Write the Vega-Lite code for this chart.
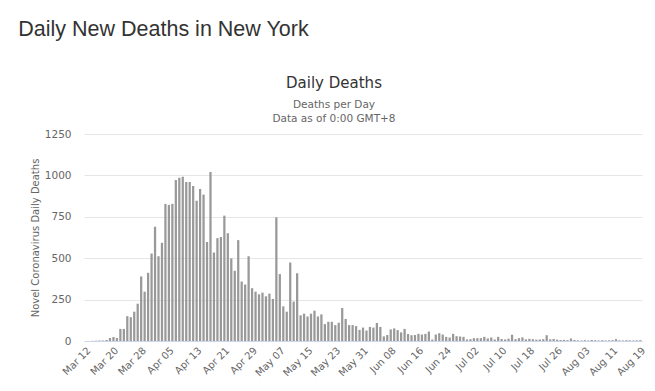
{
  "$schema": "https://vega.github.io/schema/vega-lite/v6.json",
  "background": "white",
  "padding": {"left": 18, "top": 18, "right": 5, "bottom": 5},
  "title": {"text": "Daily New Deaths in New York", "anchor": "start", "font": "Liberation Sans", "fontSize": 21.5, "fontWeight": "normal", "color": "#333333", "dx": -12, "offset": 36},
  "config": {
    "view": {"stroke": null},
    "axis": {"labelFont": "DejaVu Sans", "titleFont": "DejaVu Sans", "labelColor": "#666666", "titleColor": "#666666"}
  },
  "datasets": {
    "deaths": [
      {"date": "Mar 12", "deaths": 0}, {"date": "Mar 13", "deaths": 0}, {"date": "Mar 14", "deaths": 1}, {"date": "Mar 15", "deaths": 2}, {"date": "Mar 16", "deaths": 3}, {"date": "Mar 17", "deaths": 3}, {"date": "Mar 18", "deaths": 6}, {"date": "Mar 19", "deaths": 18}, {"date": "Mar 20", "deaths": 24}, {"date": "Mar 21", "deaths": 18},
      {"date": "Mar 22", "deaths": 73}, {"date": "Mar 23", "deaths": 73}, {"date": "Mar 24", "deaths": 150}, {"date": "Mar 25", "deaths": 144}, {"date": "Mar 26", "deaths": 177}, {"date": "Mar 27", "deaths": 225}, {"date": "Mar 28", "deaths": 390}, {"date": "Mar 29", "deaths": 298}, {"date": "Mar 30", "deaths": 412}, {"date": "Mar 31", "deaths": 528},
      {"date": "Apr 01", "deaths": 690}, {"date": "Apr 02", "deaths": 512}, {"date": "Apr 03", "deaths": 593}, {"date": "Apr 04", "deaths": 828}, {"date": "Apr 05", "deaths": 822}, {"date": "Apr 06", "deaths": 828}, {"date": "Apr 07", "deaths": 972}, {"date": "Apr 08", "deaths": 986}, {"date": "Apr 09", "deaths": 992}, {"date": "Apr 10", "deaths": 960},
      {"date": "Apr 11", "deaths": 960}, {"date": "Apr 12", "deaths": 936}, {"date": "Apr 13", "deaths": 847}, {"date": "Apr 14", "deaths": 918}, {"date": "Apr 15", "deaths": 884}, {"date": "Apr 16", "deaths": 598}, {"date": "Apr 17", "deaths": 1021}, {"date": "Apr 18", "deaths": 534}, {"date": "Apr 19", "deaths": 621}, {"date": "Apr 20", "deaths": 628},
      {"date": "Apr 21", "deaths": 757}, {"date": "Apr 22", "deaths": 651}, {"date": "Apr 23", "deaths": 499}, {"date": "Apr 24", "deaths": 424}, {"date": "Apr 25", "deaths": 609}, {"date": "Apr 26", "deaths": 359}, {"date": "Apr 27", "deaths": 341}, {"date": "Apr 28", "deaths": 512}, {"date": "Apr 29", "deaths": 319}, {"date": "Apr 30", "deaths": 298},
      {"date": "May 01", "deaths": 282}, {"date": "May 02", "deaths": 292}, {"date": "May 03", "deaths": 270}, {"date": "May 04", "deaths": 286}, {"date": "May 05", "deaths": 254}, {"date": "May 06", "deaths": 747}, {"date": "May 07", "deaths": 404}, {"date": "May 08", "deaths": 209}, {"date": "May 09", "deaths": 177}, {"date": "May 10", "deaths": 474},
      {"date": "May 11", "deaths": 238}, {"date": "May 12", "deaths": 409}, {"date": "May 13", "deaths": 155}, {"date": "May 14", "deaths": 165}, {"date": "May 15", "deaths": 148}, {"date": "May 16", "deaths": 165}, {"date": "May 17", "deaths": 183}, {"date": "May 18", "deaths": 148}, {"date": "May 19", "deaths": 161}, {"date": "May 20", "deaths": 102},
      {"date": "May 21", "deaths": 116}, {"date": "May 22", "deaths": 116}, {"date": "May 23", "deaths": 96}, {"date": "May 24", "deaths": 110}, {"date": "May 25", "deaths": 199}, {"date": "May 26", "deaths": 133}, {"date": "May 27", "deaths": 96}, {"date": "May 28", "deaths": 96}, {"date": "May 29", "deaths": 90}, {"date": "May 30", "deaths": 67},
      {"date": "May 31", "deaths": 81}, {"date": "Jun 01", "deaths": 63}, {"date": "Jun 02", "deaths": 85}, {"date": "Jun 03", "deaths": 81}, {"date": "Jun 04", "deaths": 109}, {"date": "Jun 05", "deaths": 85}, {"date": "Jun 06", "deaths": 28}, {"date": "Jun 07", "deaths": 36}, {"date": "Jun 08", "deaths": 70}, {"date": "Jun 09", "deaths": 76},
      {"date": "Jun 10", "deaths": 66}, {"date": "Jun 11", "deaths": 52}, {"date": "Jun 12", "deaths": 73}, {"date": "Jun 13", "deaths": 42}, {"date": "Jun 14", "deaths": 35}, {"date": "Jun 15", "deaths": 36}, {"date": "Jun 16", "deaths": 43}, {"date": "Jun 17", "deaths": 39}, {"date": "Jun 18", "deaths": 43}, {"date": "Jun 19", "deaths": 57},
      {"date": "Jun 20", "deaths": 9}, {"date": "Jun 21", "deaths": 39}, {"date": "Jun 22", "deaths": 47}, {"date": "Jun 23", "deaths": 39}, {"date": "Jun 24", "deaths": 25}, {"date": "Jun 25", "deaths": 21}, {"date": "Jun 26", "deaths": 43}, {"date": "Jun 27", "deaths": 29}, {"date": "Jun 28", "deaths": 27}, {"date": "Jun 29", "deaths": 25},
      {"date": "Jun 30", "deaths": 9}, {"date": "Jul 01", "deaths": 11}, {"date": "Jul 02", "deaths": 17}, {"date": "Jul 03", "deaths": 17}, {"date": "Jul 04", "deaths": 17}, {"date": "Jul 05", "deaths": 25}, {"date": "Jul 06", "deaths": 15}, {"date": "Jul 07", "deaths": 21}, {"date": "Jul 08", "deaths": 9}, {"date": "Jul 09", "deaths": 25},
      {"date": "Jul 10", "deaths": 12}, {"date": "Jul 11", "deaths": 9}, {"date": "Jul 12", "deaths": 14}, {"date": "Jul 13", "deaths": 38}, {"date": "Jul 14", "deaths": 11}, {"date": "Jul 15", "deaths": 17}, {"date": "Jul 16", "deaths": 22}, {"date": "Jul 17", "deaths": 10}, {"date": "Jul 18", "deaths": 13}, {"date": "Jul 19", "deaths": 11},
      {"date": "Jul 20", "deaths": 8}, {"date": "Jul 21", "deaths": 9}, {"date": "Jul 22", "deaths": 11}, {"date": "Jul 23", "deaths": 35}, {"date": "Jul 24", "deaths": 10}, {"date": "Jul 25", "deaths": 12}, {"date": "Jul 26", "deaths": 8}, {"date": "Jul 27", "deaths": 6}, {"date": "Jul 28", "deaths": 7}, {"date": "Jul 29", "deaths": 5},
      {"date": "Jul 30", "deaths": 15}, {"date": "Jul 31", "deaths": 6}, {"date": "Aug 01", "deaths": 4}, {"date": "Aug 02", "deaths": 3}, {"date": "Aug 03", "deaths": 5}, {"date": "Aug 04", "deaths": 3}, {"date": "Aug 05", "deaths": 6}, {"date": "Aug 06", "deaths": 4}, {"date": "Aug 07", "deaths": 3}, {"date": "Aug 08", "deaths": 5},
      {"date": "Aug 09", "deaths": 3}, {"date": "Aug 10", "deaths": 4}, {"date": "Aug 11", "deaths": 5}, {"date": "Aug 12", "deaths": 11}, {"date": "Aug 13", "deaths": 4}, {"date": "Aug 14", "deaths": 3}, {"date": "Aug 15", "deaths": 5}, {"date": "Aug 16", "deaths": 4}, {"date": "Aug 17", "deaths": 3}, {"date": "Aug 18", "deaths": 4},
      {"date": "Aug 19", "deaths": 5}
    ]
  },
  "vconcat": [
    {
      "width": 558,
      "height": 207,
      "title": {
        "text": "Daily Deaths",
        "subtitle": ["Deaths per Day", "Data as of 0:00 GMT+8"],
        "anchor": "middle",
        "dx": -29,
        "font": "DejaVu Sans",
        "fontSize": 15,
        "fontWeight": "normal",
        "color": "#333333",
        "subtitleFont": "DejaVu Sans",
        "subtitleFontSize": 10.5,
        "subtitleColor": "#666666",
        "subtitleLineHeight": 13.5,
        "subtitlePadding": 9,
        "offset": 5
      },
      "data": {"name": "deaths"},
      "mark": {"type": "bar", "color": "#999999"},
      "encoding": {
        "x": {
          "field": "date",
          "type": "ordinal",
          "sort": null,
          "scale": {"paddingInner": 0.35, "paddingOuter": 0.17},
          "axis": {
            "title": null,
            "values": ["Mar 12", "Mar 20", "Mar 28", "Apr 05", "Apr 13", "Apr 21", "Apr 29", "May 07", "May 15", "May 23", "May 31", "Jun 08", "Jun 16", "Jun 24", "Jul 02", "Jul 10", "Jul 18", "Jul 26", "Aug 03", "Aug 11", "Aug 19"],
            "labelAngle": -45,
            "labelFontSize": 10,
            "labelPadding": 4,
            "ticks": false,
            "domainColor": "#ccd6eb",
            "grid": false
          }
        },
        "y": {
          "field": "deaths",
          "type": "quantitative",
          "scale": {"domain": [0, 1250], "nice": false},
          "axis": {
            "title": "Novel Coronavirus Daily Deaths",
            "titleFontSize": 10,
            "titleFontWeight": "normal",
            "titlePadding": 4,
            "values": [0, 250, 500, 750, 1000, 1250],
            "format": "d",
            "labelFontSize": 10.5,
            "labelPadding": 13,
            "ticks": false,
            "domain": false,
            "gridColor": "#e6e6e6"
          }
        }
      }
    }
  ]
}
